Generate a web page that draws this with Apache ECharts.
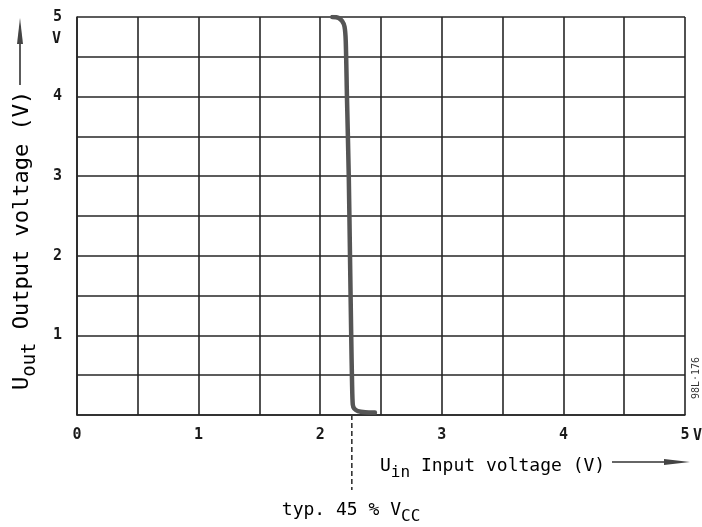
<!DOCTYPE html>
<html>
<head>
<meta charset="utf-8">
<script src="https://cdn.jsdelivr.net/npm/echarts@6/dist/echarts.min.js"></script>
<style>
html,body{margin:0;padding:0;background:#fff;}
#chart{width:702px;height:527px;}
</style>
</head>
<body>
<div id="chart"></div>
<script>
// Transfer curve: input voltage (V) vs output voltage (V)
var uIn  = [2.10, 2.15, 2.18, 2.20, 2.21, 2.22, 2.235, 2.245, 2.255, 2.262, 2.268, 2.28, 2.31, 2.37, 2.45];
var uOut = [5.00, 4.99, 4.95, 4.88, 4.70, 4.00, 3.00, 2.00, 1.00, 0.40, 0.13, 0.08, 0.05, 0.035, 0.03];
var xTicks = [0, 1, 2, 3, 4, 5];
var yTicks = [1, 2, 3, 4, 5];
var typVal = 2.26; // typ. 45 % Vcc marker

var FONT = "'DejaVu Sans Mono', 'Liberation Mono', monospace";
var INK = '#262626';
var chart = echarts.init(document.getElementById('chart'), null, {renderer: 'canvas'});

var pts = uIn.map(function (x, i) { return [x, uOut[i]]; });

chart.setOption({
  backgroundColor: '#ffffff',
  animation: false,
  grid: {left: 77, right: 17, top: 17, bottom: 112, containLabel: false, outerBoundsMode: 'none'},
  xAxis: {
    type: 'value', min: 0, max: 5, interval: 0.5,
    axisLine: {show: true, lineStyle: {color: INK, width: 1.6}},
    axisTick: {show: false},
    splitLine: {show: true, lineStyle: {color: INK, width: 1.6}},
    axisLabel: {
      margin: 13, color: '#1a1a1a', fontFamily: FONT, fontSize: 15, fontWeight: 'bold',
      formatter: function (v) { return xTicks.indexOf(v) < 0 ? '' : String(v); }
    }
  },
  yAxis: {
    type: 'value', min: 0, max: 5, interval: 0.5,
    axisLine: {show: true, lineStyle: {color: INK, width: 1.6}},
    axisTick: {show: false},
    splitLine: {show: true, lineStyle: {color: INK, width: 1.6}},
    axisLabel: {
      margin: 15, color: '#1a1a1a', fontFamily: FONT, fontSize: 15, fontWeight: 'bold',
      formatter: function (v) { return yTicks.indexOf(v) < 0 ? '' : String(v); }
    }
  },
  series: [{
    type: 'line', data: pts, smooth: 0.25, symbol: 'none',
    lineStyle: {color: '#555555', width: 4.5, cap: 'round', join: 'round'},
    z: 5
  }]
});

function px(x, y) { return chart.convertToPixel({gridIndex: 0}, [x, y]); }

var pBot = px(typVal, 0);
var pTop5 = px(0, 5);
var pRight5 = px(5, 0);
var rich = {
  m: {fontFamily: FONT, fontSize: 18, color: '#222'},
  s: {fontFamily: FONT, fontSize: 16, color: '#222', padding: [14, 0, 0, 0]},
  M: {fontFamily: FONT, fontSize: 22, color: '#222'},
  S: {fontFamily: FONT, fontSize: 19, color: '#222', padding: [16, 0, 0, 0]}
};

chart.setOption({
  graphic: [
    // dashed marker line at typ. 45 % Vcc
    {type: 'line', shape: {x1: pBot[0], y1: pBot[1], x2: pBot[0], y2: pBot[1] + 75},
     style: {stroke: '#333', lineWidth: 1.6, lineDash: [5, 3]}, z: 10},
    {type: 'text', x: pBot[0] - 70, y: pBot[1] + 95,
     style: {text: '{m|typ. 45 % V}{s|CC}', rich: rich, verticalAlign: 'middle'}},
    // "V" unit under top y label
    {type: 'text', x: pTop5[0] - 16, y: pTop5[1] + 22,
     style: {text: 'V', fontFamily: FONT, fontSize: 15, fontWeight: 'bold', fill: '#1a1a1a', align: 'right', verticalAlign: 'middle'}},
    // "V" unit after last x label
    {type: 'text', x: pRight5[0] + 8, y: pRight5[1] + 21,
     style: {text: 'V', fontFamily: FONT, fontSize: 15, fontWeight: 'bold', fill: '#1a1a1a', align: 'left', verticalAlign: 'middle'}},
    // x axis title
    {type: 'text', x: 380, y: 466,
     style: {text: '{m|U}{s|in}{m| Input voltage (V)}', rich: rich, verticalAlign: 'middle'}},
    {type: 'line', shape: {x1: 612, y1: 462, x2: 670, y2: 462}, style: {stroke: '#333', lineWidth: 1.6}},
    {type: 'polygon', shape: {points: [[664, 459], [690, 462], [664, 465]]}, style: {fill: '#444'}},
    // y axis title
    {type: 'text', x: 22, y: 390, rotation: Math.PI / 2,
     style: {text: '{M|U}{S|out}{M| Output voltage (V)}', rich: rich, verticalAlign: 'middle', align: 'left'}},
    {type: 'line', shape: {x1: 20, y1: 85, x2: 20, y2: 38}, style: {stroke: '#333', lineWidth: 1.6}},
    {type: 'polygon', shape: {points: [[17, 44], [20, 18], [23, 44]]}, style: {fill: '#444'}},
    // figure code
    {type: 'text', x: 696, y: 378, rotation: Math.PI / 2,
     style: {text: '98L·176', fontFamily: FONT, fontSize: 10, fill: '#333', align: 'center', verticalAlign: 'middle'}}
  ]
});
</script>
</body>
</html>
